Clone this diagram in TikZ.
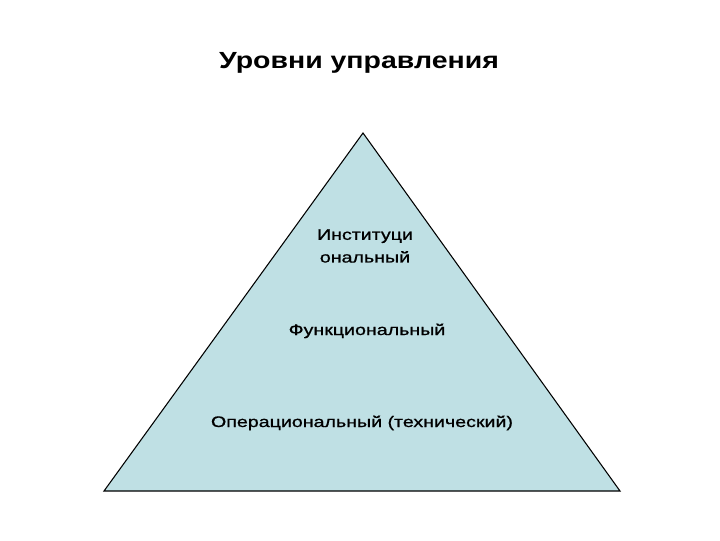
\documentclass[tikz,border=0pt]{standalone}
\usepackage{fontspec}
\usepackage{graphicx}
\setmainfont{Liberation Sans}
\newfontfamily\lblfont[FakeBold=0.8]{Liberation Sans}
\definecolor{pyr}{HTML}{BFE0E4}
\newcommand\sxl[1]{\scalebox{1.28}[1]{#1}}
\newcommand\sxt[1]{\scalebox{1.22}[1]{#1}}
\begin{document}
\begin{tikzpicture}[x=0.75pt,y=-0.75pt,
  lbl/.style={font=\lblfont\fontsize{11.5}{17}\selectfont, inner sep=0pt, align=center},
  ttl/.style={font=\bfseries\fontsize{17.5}{20}\selectfont, inner sep=0pt}]
\useasboundingbox (0,0) rectangle (720,540);
\coordinate (apex) at (363,133);
\coordinate (bl) at (104,491);
\coordinate (br) at (620,491);
\filldraw[fill=pyr, draw=black, line width=0.8pt, line join=miter] (apex) -- (br) -- (bl) -- cycle;
\node[ttl, anchor=base] (title) at (359,68) {\sxt{Уровни управления}};
\node[lbl, anchor=north] (inst) at (365,229) {\sxl{Институци}\\\sxl{ональный}};
\node[lbl, anchor=base] (func) at (367,335) {\sxl{Функциональный}};
\node[lbl, anchor=base] (oper) at (362,427) {\sxl{Операциональный (технический)}};
\end{tikzpicture}
\end{document}
